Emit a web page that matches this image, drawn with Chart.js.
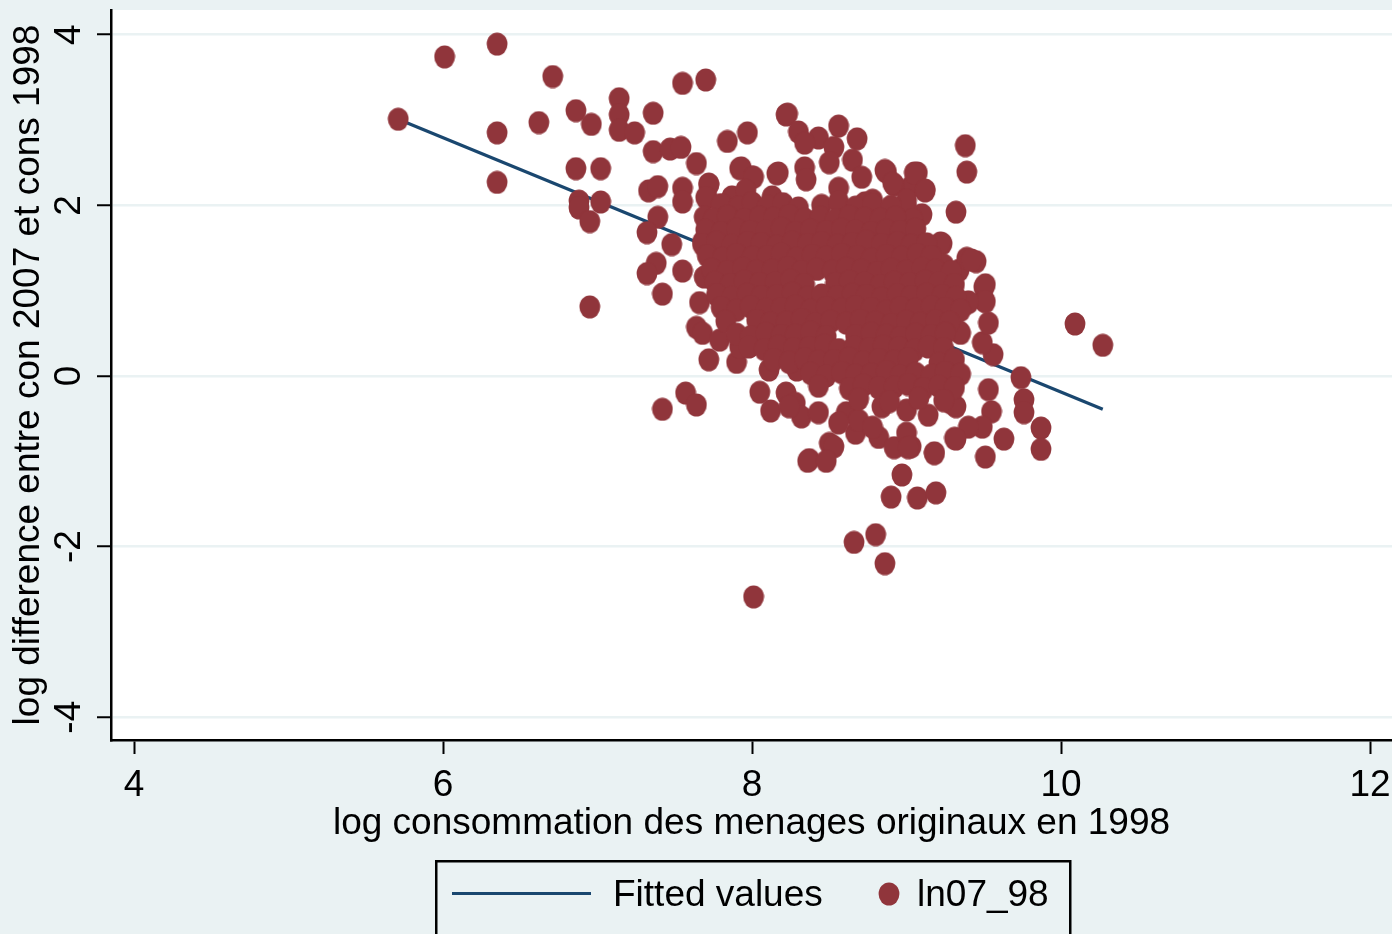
<!DOCTYPE html>
<html><head><meta charset="utf-8">
<script src="https://cdn.jsdelivr.net/npm/chart.js@4.4.1/dist/chart.umd.min.js"></script>
<style>html,body{margin:0;padding:0;background:#EAF2F3;overflow:hidden}canvas{display:block}</style>
</head><body>
<canvas id="c" width="1392" height="934"></canvas>
<script>
// ---- data ----
const xTicks = [4, 6, 8, 10, 12];
const yTicks = [-4, -2, 0, 2, 4];
const seriesNames = ['Fitted values', 'ln07_98'];
const xTitle = 'log consommation des menages originaux en 1998';
const yTitle = 'log difference entre con 2007 et cons 1998';
const fittedX = [5.71, 10.27];
const fittedY = [3.01, -0.39];
const obsX = [
 5.71, 6.01, 6.35, 6.71, 6.35, 6.62, 6.35, 6.86, 6.96, 7.14,
 7.14, 7.14, 7.24, 7.36, 7.55, 7.70, 6.86, 7.02, 6.88, 6.88,
 7.02, 6.95, 7.36, 7.47, 7.54, 7.64, 7.33, 7.39, 7.55, 7.55,
 7.72, 7.71, 7.39, 7.32, 7.48, 7.38, 7.32, 7.55, 7.42, 6.95,
 7.84, 7.97, 7.92, 8.00, 8.16, 8.22, 7.68, 7.69, 7.66, 7.64,
 7.68, 7.79, 7.72, 7.90, 7.92, 8.11, 8.29, 8.30, 8.05, 8.12,
 8.22, 8.28, 8.32, 8.37, 7.57, 7.64, 7.42, 8.24, 8.50, 8.53,
 8.36, 8.48, 8.67, 8.82, 8.92, 9.00, 9.03, 9.18, 9.31, 8.97,
 8.90, 9.07, 9.19, 8.66, 8.80, 8.86, 8.01, 8.84, 9.00, 9.14,
 9.29, 8.61, 8.69, 8.78, 8.43, 8.56,
 10.09, 10.27, 9.74, 9.76, 9.76, 9.87, 9.87, 9.63, 9.51, 9.55,
 9.49, 9.40, 9.53, 9.32, 9.18, 9.01, 9.32, 9.56, 9.49, 9.53,
 9.50, 9.50, 9.40, 9.35, 9.19, 9.38, 9.39, 9.32, 9.23, 9.24,
 9.34, 9.45, 9.39, 9.51, 9.51, 9.40, 9.18, 9.34, 8.87, 9.07,
 9.12, 9.10, 9.00, 9.03, 8.87, 8.87, 9.07, 9.02, 8.92,
 8.23, 8.56, 8.68, 8.30, 8.43, 8.34, 8.53, 7.93, 8.01, 8.17,
 8.34, 8.50, 8.65, 8.56, 8.71, 8.86, 9.05, 7.72, 7.70, 7.87,
 7.69, 7.81, 7.96, 8.13, 8.35, 8.67, 8.78, 8.91, 8.86, 9.00,
 9.04, 8.73, 9.12, 9.22, 9.42,
 7.80, 7.91, 8.00, 8.10, 8.20, 8.30, 8.45, 8.56, 8.67, 8.78, 8.90,
 7.75, 7.84, 7.95, 8.05, 8.14, 8.24, 8.34, 8.44, 8.54, 8.63, 8.73, 8.83, 8.93,
 7.70, 7.80, 7.90, 7.99, 8.09, 8.19, 8.28, 8.38, 8.48, 8.58, 8.67, 8.77, 8.87, 8.96, 9.06,
 7.68, 7.77, 7.87, 7.97, 8.06, 8.16, 8.26, 8.36, 8.45, 8.55, 8.65, 8.74, 8.84, 8.94, 9.03, 9.13,
 7.71, 7.81, 7.90, 8.00, 8.10, 8.19, 8.29, 8.39, 8.48, 8.58, 8.68, 8.77, 8.87, 8.97, 9.07, 9.16,
 7.74, 7.84, 7.94, 8.03, 8.13, 8.23, 8.32, 8.42, 8.52, 8.61, 8.71, 8.81, 8.90, 9.00, 9.10, 9.19, 9.29,
 7.76, 7.86, 7.95, 8.05, 8.15, 8.25, 8.34, 8.54, 8.63, 8.73, 8.83, 8.92, 9.02, 9.12, 9.21, 9.31,
 7.77, 7.87, 7.97, 8.06, 8.16, 8.26, 8.36, 8.45, 8.55, 8.65, 8.74, 8.84, 8.94, 9.03, 9.13, 9.23, 9.32,
 7.80, 7.90, 7.99, 8.09, 8.19, 8.28, 8.38, 8.48, 8.58, 8.67, 8.77, 8.87, 8.96, 9.06, 9.16, 9.25, 9.35,
 7.83, 8.03, 8.12, 8.22, 8.32, 8.41, 8.51, 8.61, 8.70, 8.80, 8.90, 9.00, 9.09, 9.19, 9.28,
 7.90, 7.99, 8.09, 8.19, 8.28, 8.38, 8.48, 8.67, 8.77, 8.87, 8.96, 9.06, 9.16, 9.25,
 7.98, 8.08, 8.17, 8.27, 8.37, 8.47, 8.56, 8.66, 8.76, 8.85, 8.95, 9.05, 9.14, 9.24,
 8.14, 8.24, 8.34, 8.43, 8.53, 8.63, 8.72, 8.82, 8.92, 9.01, 9.21, 9.31,
 8.38, 8.48, 8.58, 8.67, 8.77, 8.87, 8.96, 9.06, 9.16, 9.25, 9.35,
 8.43, 8.63, 8.72, 8.82, 8.92, 9.01, 9.11, 9.21, 9.31,
 8.69, 8.89, 9.08, 9.24
];
const obsY = [
 3.01, 3.74, 3.89, 3.51, 2.85, 2.97, 2.27, 3.11, 2.95, 3.25,
 3.06, 2.88, 2.85, 3.08, 3.43, 3.47, 2.43, 2.43, 2.05, 1.97,
 2.04, 1.81, 2.63, 2.66, 2.68, 2.49, 2.17, 2.22, 2.20, 2.04,
 2.25, 2.09, 1.86, 1.68, 1.54, 1.32, 1.20, 1.23, 0.96, 0.81,
 2.75, 2.85, 2.43, 2.33, 2.37, 3.06, 1.57, 1.16, 0.86, 0.57,
 0.50, 0.42, 0.19, 0.16, 0.34, 0.07, 0.07, 0.22, -0.19, -0.41,
 -0.20, -0.32, -0.48, -0.98, -0.20, -0.34, -0.39, -0.36, -0.79, -0.83,
 -1.00, -1.00, -0.67, -0.72, -0.84, -0.67, -0.83, -0.90, -0.73, -1.16,
 -1.42, -1.43, -1.37, -1.95, -1.86, -2.20, -2.59, -0.36, -0.40, -0.46,
 -0.32, -0.43, -0.52, -0.60, -0.43, -0.55,
 0.61, 0.36, -0.02, -0.28, -0.43, -0.61, -0.86, -0.74, -0.95, -0.42,
 -0.60, -0.60, -0.16, -0.74, -0.91, -0.84, -0.36, 0.25, 0.39, 0.62,
 0.89, 1.04, 0.86, 0.50, 0.80, 2.70, 2.39, 1.92, 1.55, 1.30,
 1.24, 1.34, 1.38, 1.07, 0.87, 0.87, 0.77, 0.52, 2.39, 2.38,
 2.17, 1.89, 1.98, 2.22, 1.86, 1.63, 1.50, 1.21, 2.24,
 3.07, 2.93, 2.78, 2.86, 2.79, 2.73, 2.68, 2.44, 2.33, 2.38,
 2.44, 2.50, 2.53, 2.20, 2.33, 2.41, 2.38, 2.24, 2.09, 2.10,
 1.86, 1.86, 2.18, 2.10, 2.30, 1.85, 2.06, 2.26, 1.83, 2.06,
 1.83, 2.03, 2.18, 1.56, 1.36,
 2.01, 1.98, 2.03, 1.99, 2.02, 1.97, 2.00, 2.04, 1.98, 2.01, 1.99,
 1.84, 1.87, 1.83, 1.86, 1.85, 1.88, 1.84, 1.86, 1.83, 1.87, 1.85, 1.84, 1.86,
 1.71, 1.68, 1.72, 1.69, 1.70, 1.73, 1.68, 1.71, 1.69, 1.72, 1.70, 1.68, 1.71, 1.69, 1.72,
 1.54, 1.57, 1.53, 1.56, 1.55, 1.52, 1.57, 1.54, 1.56, 1.53, 1.55, 1.58, 1.54, 1.56, 1.53, 1.55,
 1.41, 1.38, 1.42, 1.39, 1.40, 1.43, 1.38, 1.41, 1.39, 1.42, 1.40, 1.37, 1.41, 1.39, 1.42, 1.40,
 1.25, 1.22, 1.26, 1.23, 1.24, 1.27, 1.22, 1.25, 1.23, 1.26, 1.24, 1.21, 1.25, 1.23, 1.26, 1.24, 1.22,
 1.10, 1.07, 1.11, 1.08, 1.09, 1.12, 1.07, 1.08, 1.11, 1.09, 1.06, 1.10, 1.08, 1.11, 1.09, 1.07,
 0.95, 0.92, 0.96, 0.93, 0.94, 0.97, 0.92, 0.95, 0.93, 0.96, 0.94, 0.91, 0.95, 0.93, 0.96, 0.94, 0.92,
 0.80, 0.77, 0.81, 0.78, 0.79, 0.82, 0.77, 0.80, 0.78, 0.81, 0.79, 0.76, 0.80, 0.78, 0.81, 0.79, 0.77,
 0.64, 0.65, 0.62, 0.63, 0.66, 0.61, 0.64, 0.62, 0.65, 0.63, 0.60, 0.64, 0.62, 0.65, 0.63,
 0.49, 0.46, 0.50, 0.47, 0.48, 0.51, 0.46, 0.47, 0.50, 0.48, 0.45, 0.49, 0.47, 0.50,
 0.34, 0.31, 0.35, 0.32, 0.33, 0.36, 0.31, 0.34, 0.32, 0.35, 0.33, 0.30, 0.34, 0.32,
 0.19, 0.16, 0.20, 0.17, 0.18, 0.21, 0.16, 0.19, 0.17, 0.20, 0.15, 0.19,
 0.03, 0.00, 0.04, 0.01, 0.02, 0.05, 0.00, 0.03, 0.01, 0.04, 0.02,
 -0.12, -0.15, -0.11, -0.14, -0.13, -0.10, -0.15, -0.12, -0.14,
 -0.27, -0.30, -0.26, -0.29
];
if (obsX.length !== obsY.length) throw new Error('length mismatch ' + obsX.length + ' vs ' + obsY.length);

// ---- style ----
const FONT = '"Liberation Sans", Arial, "DejaVu Sans", sans-serif';
const FS = 37;
const BG = '#EAF2F3';
const MAROON = '#90353B';
const NAVY = '#1A476F';

function makeMarker(color) {
  const c = document.createElement('canvas');
  c.width = 22; c.height = 24;
  const g = c.getContext('2d');
  g.fillStyle = color;
  g.beginPath();
  g.ellipse(11, 12, 10.4, 11.5, 0, 0, Math.PI * 2);
  g.fill();
  return c;
}
const marker = makeMarker(MAROON);

const bgPlugin = {
  id: 'bg',
  beforeDraw(chart) {
    const {ctx, chartArea: a} = chart;
    ctx.save();
    ctx.fillStyle = BG;
    ctx.fillRect(0, 0, chart.width, chart.height);
    ctx.fillStyle = '#ffffff';
    ctx.fillRect(a.left, a.top, a.right - a.left, a.bottom - a.top);
    ctx.restore();
  }
};

const yLabelPlugin = {
  id: 'ylabels',
  afterDraw(chart) {
    const {ctx} = chart;
    const s = chart.scales.y;
    ctx.save();
    ctx.font = FS + 'px ' + FONT;
    ctx.fillStyle = '#000';
    ctx.textAlign = 'center';
    ctx.textBaseline = 'middle';
    yTicks.forEach(v => {
      const py = s.getPixelForValue(v);
      ctx.save();
      ctx.translate(70, py);
      ctx.rotate(-Math.PI / 2);
      ctx.fillText(String(v), 0, 0);
      ctx.restore();
    });
    ctx.restore();
  }
};

const legendPlugin = {
  id: 'stataLegend',
  afterDraw(chart) {
    const {ctx} = chart;
    const ds = chart.data.datasets;
    ctx.save();
    ctx.strokeStyle = '#000';
    ctx.lineWidth = 2.5;
    ctx.strokeRect(436.25, 861.25, 634, 120);
    ctx.strokeStyle = ds[0].borderColor;
    ctx.lineWidth = 3;
    ctx.beginPath();
    ctx.moveTo(452, 893.5);
    ctx.lineTo(591, 893.5);
    ctx.stroke();
    ctx.font = FS + 'px ' + FONT;
    ctx.fillStyle = '#000';
    ctx.textAlign = 'left';
    ctx.textBaseline = 'alphabetic';
    ctx.fillText(ds[0].label, 613, 906);
    ctx.drawImage(marker, 889 - 11, 894 - 12);
    ctx.fillText(ds[1].label, 917, 906);
    ctx.restore();
  }
};

const fitted = fittedX.map((x, i) => ({x, y: fittedY[i]}));
const obs = obsX.map((x, i) => ({x, y: obsY[i]}));

new Chart(document.getElementById('c'), {
  type: 'scatter',
  data: {
    datasets: [
      {type: 'line', label: seriesNames[0], data: fitted, borderColor: NAVY, backgroundColor: NAVY,
       borderWidth: 3.2, pointRadius: 0, fill: false, tension: 0, order: 2},
      {label: seriesNames[1], data: obs, backgroundColor: MAROON, borderColor: MAROON,
       pointStyle: marker, pointRadius: 11, borderWidth: 0, order: 1}
    ]
  },
  options: {
    responsive: false,
    animation: false,
    devicePixelRatio: 1,
    layout: {autoPadding: false, padding: {top: 10, right: 0, bottom: 0, left: 0}},
    plugins: {legend: {display: false}, tooltip: {enabled: false}},
    scales: {
      x: {
        type: 'linear', min: 3.851, max: 12.142,
        afterBuildTicks: s => { s.ticks = xTicks.map(v => ({value: v})); },
        afterFit: s => { s.height = 194; s.paddingLeft = 0; s.paddingRight = 0; },
        grid: {drawOnChartArea: false, drawTicks: true, tickLength: 14, tickColor: '#000', tickWidth: 2},
        border: {color: '#000', width: 2.5},
        ticks: {font: {family: FONT, size: FS}, color: '#000', padding: 10, maxRotation: 0, autoSkip: false},
        title: {display: true, text: xTitle, color: '#000', font: {family: FONT, size: FS}, padding: {top: 0, bottom: 88}}
      },
      y: {
        type: 'linear', min: -4.267, max: 4.29,
        afterBuildTicks: s => { s.ticks = yTicks.map(v => ({value: v})); },
        afterFit: s => { s.width = 111; s.paddingTop = 0; s.paddingBottom = 0; },
        grid: {color: BG, lineWidth: 2.5, drawTicks: true, tickLength: 14, tickColor: '#000', tickWidth: 2},
        border: {color: '#000', width: 2.5},
        ticks: {display: false},
        title: {display: true, text: yTitle, color: '#000', font: {family: FONT, size: FS}, padding: {top: 7, bottom: 0}}
      }
    }
  },
  plugins: [bgPlugin, yLabelPlugin, legendPlugin]
});
</script>
</body></html>
